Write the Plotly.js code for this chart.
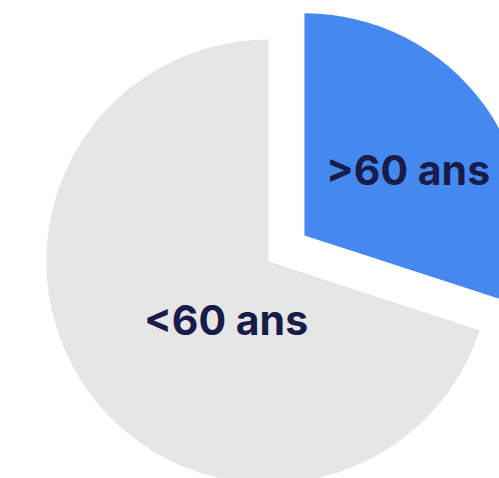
<!DOCTYPE html>
<html>
<head>
<meta charset="utf-8">
<script src="https://cdn.plot.ly/plotly-3.0.1.min.js"></script>
<style>
  html, body { margin: 0; padding: 0; background: #fff; overflow: hidden; width: 499px; height: 478px; }
  /* le camembert déborde de la fenêtre, comme sur l'original */
  #pie { position: absolute; left: 2px; top: -5px; width: 533px; height: 533px; }
</style>
</head>
<body>
<div id="pie"></div>
<script>
// Données
const labels = ['>60 ans', '<60 ans'];
const values = [30, 70];
const colors = ['#4589F0', '#E6E6E6'];
const pulls = [0.2, 0];

// position des étiquettes (fraction du cadre), posées à la main comme sur l'original
const labelX = [0.761, 0.420];
const labelY = [0.672, 0.390];

const trace = {
    type: 'pie',
    labels: labels,
    values: values,
    pull: pulls,
    sort: false,
    direction: 'clockwise',
    rotation: 0,
    marker: { colors: colors, line: { width: 0 } },
    textinfo: 'none',
    hoverinfo: 'none'
};

const layout = {
    width: 533, height: 533,
    margin: { t: 0, l: 0, r: 0, b: 0 },
    showlegend: false,
    paper_bgcolor: 'rgba(0,0,0,0)',
    plot_bgcolor: 'rgba(0,0,0,0)',
    annotations: labels.map((lab, i) => ({
        text: lab,
        x: labelX[i], y: labelY[i],
        xref: 'paper', yref: 'paper',
        xanchor: 'center', yanchor: 'middle',
        showarrow: false,
        font: { family: 'Inter, sans-serif', size: 41, weight: 'bold', color: '#181C4B' }
    }))
};

Plotly.newPlot('pie', [trace], layout, { displayModeBar: false, staticPlot: true });
</script>
</body>
</html>
